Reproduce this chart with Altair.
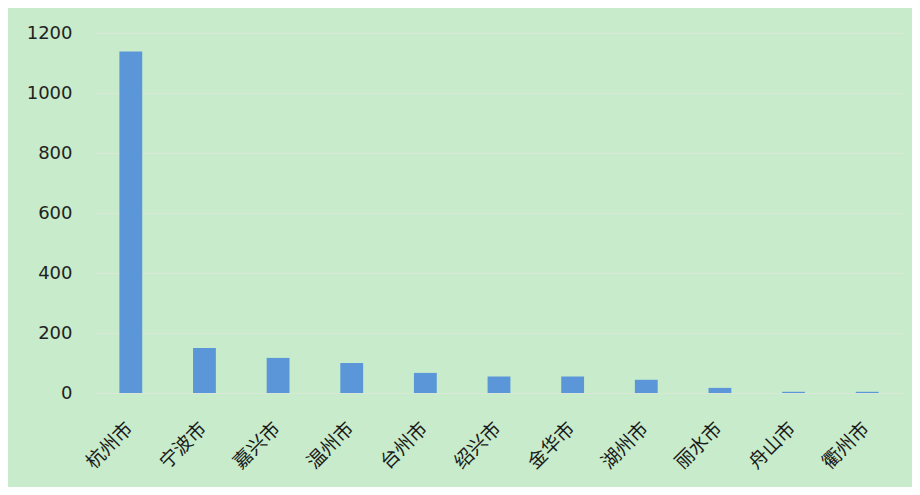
import altair as alt
import pandas as pd

cities = ["杭州市", "宁波市", "嘉兴市", "温州市", "台州市", "绍兴市", "金华市", "湖州市", "丽水市", "舟山市", "衢州市"]
values = [1138, 150, 117, 100, 67, 55, 55, 44, 17, 4, 4]

df = pd.DataFrame({"city": cities, "value": values})

chart = alt.Chart(df).mark_bar(color="#5b96d9").encode(
    x=alt.X("city:N", sort=cities, title=None,
            scale=alt.Scale(paddingInner=0.69, paddingOuter=0.345),
            axis=alt.Axis(labelAngle=-45, labelAlign="right", labelBaseline="middle",
                          labelFontSize=19, labelFont="Noto Sans CJK SC", labelColor="#1a1a1a",
                          labelOffset=-1, labelPadding=32,
                          ticks=False, domain=False, grid=False)),
    y=alt.Y("value:Q", title=None,
            scale=alt.Scale(domain=[0, 1200], nice=False),
            axis=alt.Axis(values=[0, 200, 400, 600, 800, 1000, 1200], format="d",
                          labelFontSize=18, labelFont="DejaVu Sans", labelColor="#222222",
                          labelPadding=22, ticks=False, domain=False,
                          grid=True, gridColor="#d9e7d6", gridWidth=1)),
).properties(
    width=810, height=360,
    background="#c7ebcb",
    autosize=alt.AutoSizeParams(type="none"),
    padding={"left": 86, "top": 25, "right": 8, "bottom": 94},
).configure_view(stroke=None)

chart.save("out.html", embed_options={"renderer": "svg", "actions": False})
